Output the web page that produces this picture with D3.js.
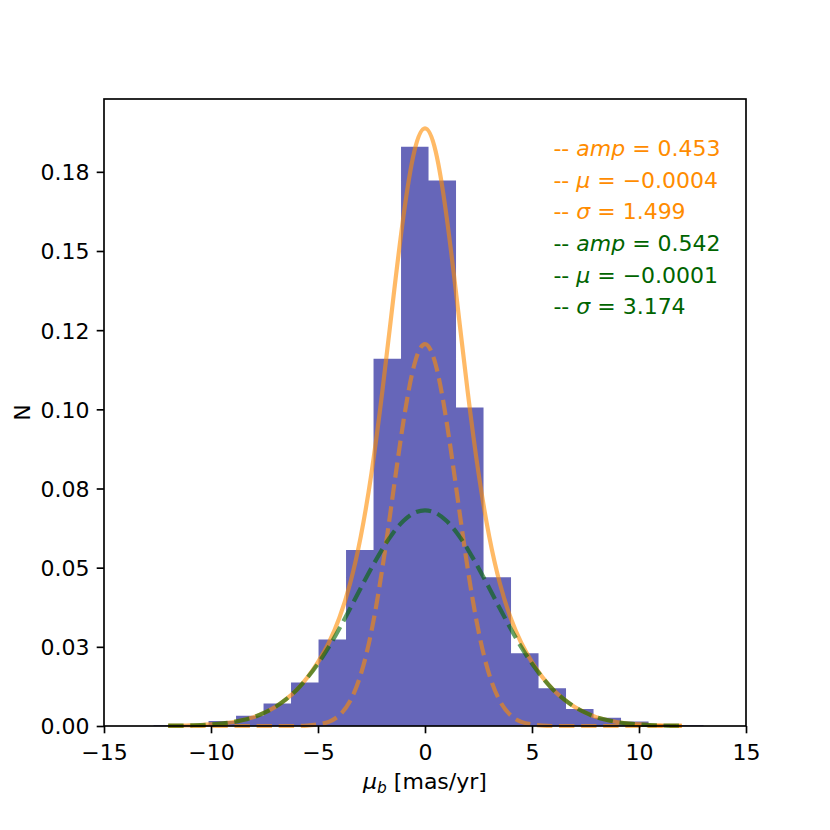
<!DOCTYPE html>
<html>
<head>
<meta charset="utf-8">
<script src="https://cdn.jsdelivr.net/npm/d3@7"></script>
<style>
  body { margin: 0; background: #fff; }
  text { font-family: "DejaVu Sans", sans-serif; }
</style>
</head>
<body>
<div id="viz_container"></div>
<script>
// histogram bins (mas/yr) and normalised counts
const binEdges = [-12.685, -11.4, -10.115, -8.83, -7.545, -6.26, -4.975, -3.69, -2.405, -1.12,
                  0.165, 1.45, 2.735, 4.02, 5.305, 6.59, 7.875, 9.16, 10.445, 11.73, 13.015];
const binDensity = [0.0002, 0.0004, 0.0016, 0.0032, 0.0071, 0.0137, 0.0273, 0.0556, 0.1160, 0.1829,
                    0.1723, 0.1006, 0.0470, 0.0230, 0.0119, 0.0054, 0.0026, 0.0014, 0.0006, 0.0002];

const curveX = [-12, -11.5, -11, -10.5, -10, -9.5, -9, -8.5, -8, -7.5, -7, -6.5, -6, -5.5, -5, -4.5,
                -4, -3.5, -3, -2.5, -2, -1.5, -1, -0.5, 0, 0.5, 1, 1.5, 2, 2.5, 3, 3.5, 4, 4.5,
                5, 5.5, 6, 6.5, 7, 7.5, 8, 8.5, 9, 9.5, 10, 10.5, 11, 11.5, 12];
const totalFit = [0.0001, 0.0001, 0.0002, 0.0003, 0.0005, 0.0008, 0.0012, 0.0019, 0.0028, 0.0042, 0.0060, 0.0084, 0.0114, 0.0153, 0.0202, 0.0262,
                  0.0342, 0.0450, 0.0599, 0.0799, 0.1053, 0.1340, 0.1613, 0.1814, 0.1887, 0.1814, 0.1613, 0.1340, 0.1053, 0.0799, 0.0599, 0.0450, 0.0342, 0.0262,
                  0.0202, 0.0153, 0.0114, 0.0084, 0.0060, 0.0042, 0.0028, 0.0019, 0.0012, 0.0008, 0.0005, 0.0003, 0.0002, 0.0001, 0.0001];
const narrowFit = [0, 0, 0, 0, 0, 0, 0, 0, 0, 0, 0, 0, 0, 0.0001, 0.0005, 0.0013,
                   0.0034, 0.0079, 0.0163, 0.0300, 0.0495, 0.0731, 0.0965, 0.1141, 0.1206, 0.1141, 0.0965, 0.0731, 0.0495, 0.0300, 0.0163, 0.0079, 0.0034, 0.0013,
                   0.0005, 0.0001, 0, 0, 0, 0, 0, 0, 0, 0, 0, 0, 0, 0, 0];
const wideFit = [0.0001, 0.0001, 0.0002, 0.0003, 0.0005, 0.0008, 0.0012, 0.0019, 0.0028, 0.0042, 0.0060, 0.0084, 0.0114, 0.0152, 0.0197, 0.0249,
                 0.0308, 0.0371, 0.0436, 0.0499, 0.0558, 0.0609, 0.0648, 0.0673, 0.0681, 0.0673, 0.0648, 0.0609, 0.0558, 0.0499, 0.0436, 0.0371, 0.0308, 0.0249,
                 0.0197, 0.0152, 0.0114, 0.0084, 0.0060, 0.0042, 0.0028, 0.0019, 0.0012, 0.0008, 0.0005, 0.0003, 0.0002, 0.0001, 0.0001];

// fit parameters shown in the annotation
const fitNames = ["amp", "\u03bc", "\u03c3", "amp", "\u03bc", "\u03c3"];
const fitValues = ["0.453", "\u22120.0004", "1.499", "0.542", "\u22120.0001", "3.174"];
const fitColors = ["darkorange", "darkorange", "darkorange", "darkgreen", "darkgreen", "darkgreen"];

// tick labels
const xTicks = [-15, -10, -5, 0, 5, 10, 15];
const xTickLabels = ["\u221215", "\u221210", "\u22125", "0", "5", "10", "15"];
const yTicks = [0, 0.025, 0.05, 0.075, 0.1, 0.125, 0.15, 0.175];
const yTickLabels = ["0.00", "0.03", "0.05", "0.08", "0.10", "0.12", "0.15", "0.18"];

// set the dimensions and margins of the graph
const margin = {top: 99, right: 84, bottom: 104, left: 104};
const width = 830 - margin.left - margin.right;
const height = 830 - margin.top - margin.bottom;
const fontSize = 22;
const tickLen = 7.3;

const svg = d3.select("#viz_container")
  .append("svg")
    .attr("width", 830)
    .attr("height", 830)
  .append("g")
    .attr("transform", `translate(${margin.left}, ${margin.top})`);

const xScale = d3.scaleLinear().domain([-15, 15]).range([0, width]);
const yScale = d3.scaleLinear().domain([0, 0.198]).range([height, 0]);

// histogram as one stepped area
const histPoints = binDensity.map((v, i) => [binEdges[i], v]);
histPoints.push([binEdges[binEdges.length - 1], binDensity[binDensity.length - 1]]);

svg.append("path")
  .datum(histPoints)
  .attr("fill", "#00008b")
  .attr("fill-opacity", 0.6)
  .attr("d", d3.area()
    .curve(d3.curveStepAfter)
    .x(d => xScale(d[0]))
    .y0(yScale(0))
    .y1(d => yScale(d[1])));

// fitted curves
const line = d3.line()
  .curve(d3.curveNatural)
  .x((d, i) => xScale(curveX[i]))
  .y(d => yScale(d));

svg.append("path")
  .datum(totalFit)
  .attr("fill", "none")
  .attr("stroke", "darkorange")
  .attr("stroke-opacity", 0.6)
  .attr("stroke-width", 4.2)
  .attr("d", line);

svg.append("path")
  .datum(narrowFit)
  .attr("fill", "none")
  .attr("stroke", "darkorange")
  .attr("stroke-opacity", 0.6)
  .attr("stroke-width", 4.2)
  .attr("stroke-dasharray", "15.4,6.7")
  .attr("d", line);

svg.append("path")
  .datum(wideFit)
  .attr("fill", "none")
  .attr("stroke", "darkgreen")
  .attr("stroke-opacity", 0.6)
  .attr("stroke-width", 4.2)
  .attr("stroke-dasharray", "15.4,6.7")
  .attr("d", line);

// axes
const xAxis = svg.append("g")
  .attr("transform", `translate(0, ${height})`)
  .call(d3.axisBottom(xScale).tickValues(xTicks).tickFormat((d, i) => xTickLabels[i])
    .tickSize(tickLen).tickPadding(tickLen));
xAxis.select(".domain").remove();
xAxis.selectAll(".tick line").attr("stroke-width", 1.67);
xAxis.selectAll(".tick text")
  .attr("font-size", fontSize).attr("font-family", "DejaVu Sans").attr("fill", "#000")
  .attr("dy", "0.88em");

const yAxis = svg.append("g")
  .call(d3.axisLeft(yScale).tickValues(yTicks).tickFormat((d, i) => yTickLabels[i])
    .tickSize(tickLen).tickPadding(tickLen));
yAxis.select(".domain").remove();
yAxis.selectAll(".tick line").attr("stroke-width", 1.67);
yAxis.selectAll(".tick text")
  .attr("font-size", fontSize).attr("font-family", "DejaVu Sans").attr("fill", "#000")
  .attr("dy", "0.36em");

// frame
svg.append("rect")
  .attr("width", width)
  .attr("height", height)
  .attr("fill", "none")
  .attr("stroke", "#000")
  .attr("stroke-width", 1.67);

// axis labels
const xLabel = svg.append("text")
  .attr("x", width / 2)
  .attr("y", height + 63)
  .attr("text-anchor", "middle")
  .attr("font-size", fontSize);
xLabel.append("tspan").attr("font-style", "italic").text("\u03bc");
xLabel.append("tspan").attr("font-style", "italic").attr("font-size", fontSize * 0.7).attr("dy", 4).text("b");
xLabel.append("tspan").attr("dy", -4).text(" [mas/yr]");

svg.append("text")
  .attr("transform", `translate(${30 - margin.left}, ${height / 2}) rotate(-90)`)
  .attr("text-anchor", "middle")
  .attr("font-size", fontSize)
  .text("N");

// fit annotation
fitNames.forEach((name, i) => {
  const t = svg.append("text")
    .attr("x", xScale(6))
    .attr("y", yScale(0.18 - 0.01 * i))
    .attr("font-size", fontSize)
    .attr("fill", fitColors[i]);
  t.append("tspan").text("-- ");
  t.append("tspan").attr("font-style", "italic").text(name);
  t.append("tspan").text(" = " + fitValues[i]);
});
</script>
</body>
</html>
